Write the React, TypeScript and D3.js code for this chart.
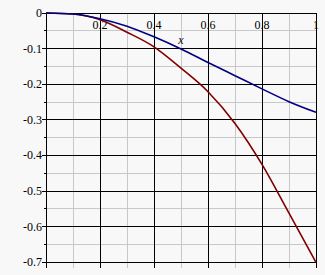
import React from "react";
import * as d3 from "d3";

const xValues = [0, 0.1, 0.2, 0.3, 0.4, 0.5, 0.6, 0.7, 0.8, 0.9, 1];
const blueValues = [0, -0.003, -0.016, -0.037, -0.067, -0.101, -0.139, -0.176, -0.213, -0.249, -0.279];
const redValues = [0, -0.003, -0.019, -0.054, -0.095, -0.155, -0.221, -0.31, -0.425, -0.562, -0.7];
const xTickLabels = ["0.2", "0.4", "0.6", "0.8", "1"];
const xTicks = [0.2, 0.4, 0.6, 0.8, 1];
const yTicks = [0, -0.1, -0.2, -0.3, -0.4, -0.5, -0.6, -0.7];
const yTickLabels = ["0", "-0.1", "-0.2", "-0.3", "-0.4", "-0.5", "-0.6", "-0.7"];

const W = 325;
const H = 275;

export default function App() {
  const x = d3.scaleLinear().domain([0, 1]).range([46, 316]);
  const y = d3.scaleLinear().domain([0, -0.7]).range([13, 262.3]);
  const bottom = 267.5;

  const minorX = d3.range(1, 10, 2).map((i) => i / 10);
  const majorX = xTicks;
  const minorY = d3.range(1, 14, 2).map((i) => -i * 0.05);
  const majorY = yTicks;

  const line = d3
    .line<number>()
    .x((_, i) => x(xValues[i]))
    .curve(d3.curveMonotoneX);

  const bluePath = line.y((v) => y(v))(blueValues) || "";
  const redPath = line.y((v) => y(v))(redValues) || "";

  const font = "'Liberation Serif', 'Times New Roman', serif";

  return (
    <div style={{ position: "fixed", left: 0, top: 0 }}>
      <svg width={W} height={H} style={{ display: "block", background: "#f8f8f8" }}>
        <rect x={0} y={0} width={W} height={H} fill="#f8f8f8" />
        {minorX.map((v) => (
          <line key={"mx" + v} x1={x(v)} x2={x(v)} y1={y(0)} y2={bottom} stroke="#c8c8c8" strokeWidth={1} shapeRendering="crispEdges" />
        ))}
        {minorY.map((v) => (
          <line key={"my" + v} x1={x(0)} x2={x(1)} y1={y(v)} y2={y(v)} stroke="#c8c8c8" strokeWidth={1} shapeRendering="crispEdges" />
        ))}
        {majorY.map((v) => (
          <line key={"My" + v} x1={x(0) - 4} x2={x(1)} y1={y(v)} y2={y(v)} stroke="#000" strokeWidth={1} shapeRendering="crispEdges" />
        ))}
        {minorY.map((v) => (
          <line key={"mt" + v} x1={x(0) - 2} x2={x(0)} y1={y(v)} y2={y(v)} stroke="#000" strokeWidth={1} shapeRendering="crispEdges" />
        ))}
        {majorX.map((v) => (
          <line key={"Mx" + v} x1={x(v)} x2={x(v)} y1={y(0)} y2={bottom} stroke="#000" strokeWidth={1} shapeRendering="crispEdges" />
        ))}
        <line x1={x(0)} x2={x(0)} y1={y(0)} y2={bottom} stroke="#000" strokeWidth={1} shapeRendering="crispEdges" />
        {yTicks.map((v, i) => (
          <text key={"yl" + v} x={42} y={y(v)} dy="0.33em" textAnchor="end" fontFamily={font} fontSize={12} fill="#000">
            {yTickLabels[i]}
          </text>
        ))}
        {xTicks.map((v, i) => (
          <text key={"xl" + v} x={x(v)} y={29} textAnchor="middle" fontFamily={font} fontSize={12} fill="#000">
            {xTickLabels[i]}
          </text>
        ))}
        <text x={181} y={44} textAnchor="middle" fontFamily={font} fontSize={12} fontStyle="italic" fill="#000">
          x
        </text>
        <path d={redPath} fill="none" stroke="#800000" strokeWidth={1.6} />
        <path d={bluePath} fill="none" stroke="#000080" strokeWidth={1.6} />
      </svg>
    </div>
  );
}
